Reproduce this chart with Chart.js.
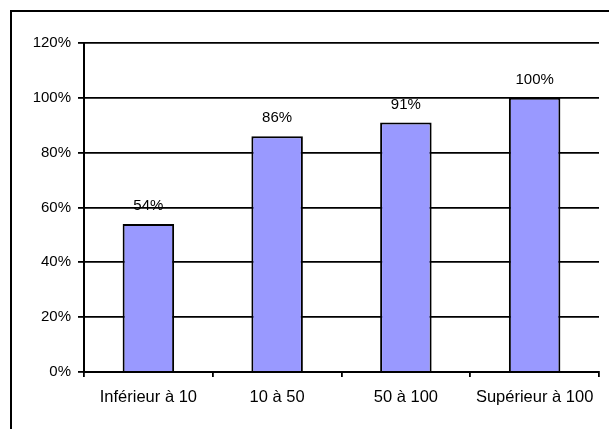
<!DOCTYPE html>
<html>
<head>
<meta charset="utf-8">
<script src="https://cdn.jsdelivr.net/npm/chart.js@4/dist/chart.umd.min.js"></script>
<style>
  html, body { margin: 0; padding: 0; background: #fff; }
  #wrap { width: 609px; height: 429px; position: relative; }
</style>
</head>
<body>
<div id="wrap"><canvas id="c" width="609" height="429"></canvas></div>
<script>
// Share by size class (percent)
const categories = ['Inférieur à 10', '10 à 50', '50 à 100', 'Supérieur à 100'];
const shares = [54, 86, 91, 100];
const yTicks = [0, 20, 40, 60, 80, 100, 120];

const FONT = '"Liberation Sans", Arial, sans-serif';

// Frame along the top and left edges of the canvas
const framePlugin = {
  id: 'frame',
  afterDraw(chart) {
    const ctx = chart.ctx;
    ctx.save();
    ctx.strokeStyle = '#000';
    ctx.lineWidth = 2;
    ctx.beginPath();
    ctx.moveTo(11, 429);
    ctx.lineTo(11, 11);
    ctx.lineTo(609, 11);
    ctx.stroke();
    ctx.restore();
  }
};

// Value labels above each bar
const valueLabels = {
  id: 'valueLabels',
  afterDatasetsDraw(chart) {
    const ctx = chart.ctx;
    const meta = chart.getDatasetMeta(0);
    ctx.save();
    ctx.font = '15px ' + FONT;
    ctx.fillStyle = '#000';
    ctx.textAlign = 'center';
    ctx.textBaseline = 'middle';
    meta.data.forEach((bar, i) => {
      ctx.fillText(shares[i] + '%', bar.x, bar.y - 18);
    });
    ctx.restore();
  }
};

new Chart(document.getElementById('c'), {
  type: 'bar',
  data: {
    labels: categories,
    datasets: [{
      data: shares,
      backgroundColor: '#9999FF',
      borderColor: '#000',
      borderWidth: 2,
      categoryPercentage: 1,
      barPercentage: 0.4
    }]
  },
  options: {
    responsive: false,
    animation: false,
    devicePixelRatio: 1,
    layout: { padding: { left: 0, top: 43, right: 10, bottom: 0 } },
    plugins: { legend: { display: false }, tooltip: { enabled: false } },
    scales: {
      y: {
        min: 0,
        max: 120,
        afterBuildTicks(scale) {
          scale.ticks = yTicks.map(v => ({ value: v }));
        },
        afterFit(scale) { scale.width = 84; },
        ticks: {
          color: '#000',
          font: { size: 15, family: FONT },
          padding: 7,
          callback: v => v + '%'
        },
        grid: { color: '#000', lineWidth: 1.8, tickLength: 6 },
        border: { color: '#000', width: 2 }
      },
      x: {
        afterFit(scale) { scale.height = 57; },
        ticks: {
          color: '#000',
          font: { size: 16.5, family: FONT },
          padding: 11,
          maxRotation: 0
        },
        grid: { drawOnChartArea: false, color: '#000', lineWidth: 1.8, tickLength: 5, offset: true },
        border: { color: '#000', width: 2 }
      }
    }
  },
  plugins: [framePlugin, valueLabels]
});
</script>
</body>
</html>
